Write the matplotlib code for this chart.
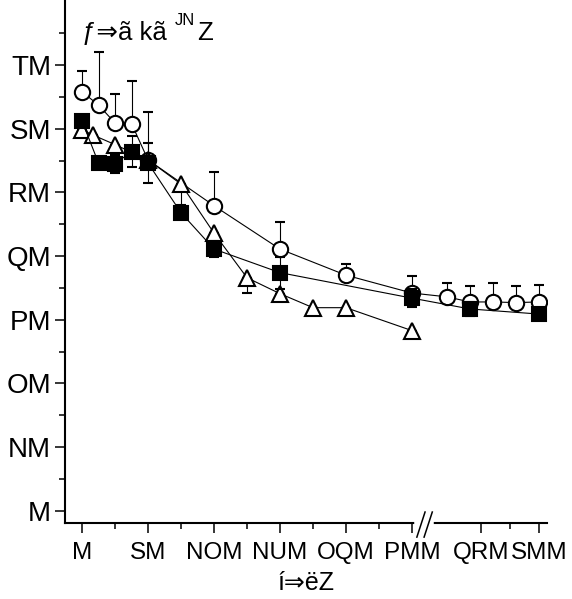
import matplotlib
matplotlib.use('Agg')
import matplotlib.pyplot as plt
import numpy as np
from matplotlib.lines import Line2D
from matplotlib import font_manager

plt.rcParams['font.family'] = ['Liberation Sans', 'DejaVu Sans']

# open circles
t_circle = [0, 15, 30, 45, 60, 120, 180, 240, 300, 360, 420, 480, 540, 600]
y_circle = [65.8, 63.7, 60.9, 60.8, 55.1, 47.9, 41.1, 37.0, 34.2, 33.6, 32.8, 32.8, 32.7, 32.8]
e_circle = [3.3, 8.4, 4.6, 6.7, 7.5, 5.3, 4.3, 1.8, 2.7, 2.2, 2.5, 3.0, 2.6, 2.7]

# filled squares
t_square = [0, 15, 30, 45, 60, 90, 120, 180, 300, 420, 600]
y_square = [61.2, 54.6, 54.5, 56.4, 54.6, 46.8, 41.1, 37.4, 33.4, 31.7, 30.9]
e_square = [0.0, 0.0, 1.5, 2.4, 3.1, 0.0, 1.3, 2.5, 1.4, 1.1, 0.0]

# open triangles
t_tri = [0, 10, 30, 60, 90, 120, 150, 180, 210, 240, 300]
y_tri = [59.8, 59.0, 57.5, 55.1, 51.3, 43.6, 36.6, 34.1, 31.9, 31.9, 28.3]
e_tri = [0.0, 1.1, 1.6, 0.0, 3.3, 0.8, 2.4, 1.2, 0.0, 0.0, 0.0]

x_major = [0, 60, 120, 180, 240, 300, 450, 600]
x_minor = [30, 90, 150, 210, 270, 525]
x_labels = ['M', 'SM', 'NOM', 'NUM', 'OQM', 'PMM', 'QRM', 'SMM']
y_major = [0, 10, 20, 30, 40, 50, 60, 70]
y_minor = [5, 15, 25, 35, 45, 55, 65, 75]
y_labels = ['M', 'NM', 'OM', 'PM', 'QM', 'RM', 'SM', 'TM']


# broken time axis: linear up to 305, compressed afterwards
def fwd(t):
    t = np.asarray(t, dtype=float)
    return np.where(t <= 305, 1.1 * t, 457 - (600 - t) * 0.3833)


def inv(u):
    u = np.asarray(u, dtype=float)
    return np.where(u <= 335.5, u / 1.1,
                    np.where(u >= 343.9, 600 - (457 - u) / 0.3833, 305))


# condensed face for the crowded time labels, if present
try:
    font_manager.findfont('Liberation Sans Narrow', fallback_to_default=False)
    xlab_font, xlab_size = 'Liberation Sans Narrow', 20
except ValueError:
    xlab_font, xlab_size = 'Liberation Sans', 17.5

fig = plt.figure(figsize=(5.72, 5.99), dpi=100)
ax = fig.add_axes([65 / 572, 76 / 599, 482 / 572, 523 / 599])
ax.set_xscale('function', functions=(fwd, inv))

common = dict(color='black', lw=0.8, capsize=3.5, elinewidth=0.8, capthick=0.8,
              markeredgewidth=1.5, markeredgecolor='black')

ax.errorbar(t_circle, y_circle, yerr=[np.zeros(len(e_circle)), e_circle],
            fmt='o-', ms=11, markerfacecolor='white', zorder=2, **common)
ax.errorbar(t_tri, y_tri, yerr=[e_tri, np.zeros(len(e_tri))],
            fmt='^-', ms=11.5, markerfacecolor='white', zorder=3, **common)
ax.errorbar(t_square, y_square, yerr=e_square,
            fmt='s-', ms=10.5, markerfacecolor='black', zorder=4, **common)

ax.set_xlim(-15.5, 621)
ax.set_ylim(-1.9, 80.2)

ax.set_xticks(x_major)
ax.set_xticks(x_minor, minor=True)
ax.set_xticklabels(x_labels, fontfamily=xlab_font, fontsize=xlab_size)
ax.set_yticks(y_major)
ax.set_yticks(y_minor, minor=True)
ax.set_yticklabels(y_labels, fontsize=20)

ax.tick_params(which='major', direction='out', length=7, width=1.1)
ax.tick_params(which='minor', direction='out', length=4, width=1.1)
ax.tick_params(axis='x', which='major', pad=7)
ax.tick_params(axis='y', which='major', pad=3)

for side in ['top', 'right']:
    ax.spines[side].set_visible(False)
for side in ['left', 'bottom']:
    ax.spines[side].set_linewidth(1.5)

# axis break marks
ax.add_line(Line2D([0.730, 0.759], [0, 0], transform=ax.transAxes, color='white',
                   lw=4, clip_on=False, zorder=5))
for x0 in [0.730, 0.745]:
    ax.add_line(Line2D([x0, x0 + 0.017], [-0.027, 0.021], transform=ax.transAxes,
                       color='black', lw=1.1, clip_on=False, zorder=6))

# unit label and axis title
fig.text(82 / 572, 1 - 40 / 599, 'ƒ⇒ã kã', fontsize=18.5, va='baseline')
fig.text(175 / 572, 1 - 25 / 599, 'JN', fontsize=12, va='baseline')
fig.text(197 / 572, 1 - 40 / 599, 'Z', fontsize=18.5, va='baseline')
fig.text(306 / 572, 1 - 590 / 599, 'í⇒ëZ', fontsize=18, ha='center', va='baseline')

fig.savefig('out.png', dpi=100)
